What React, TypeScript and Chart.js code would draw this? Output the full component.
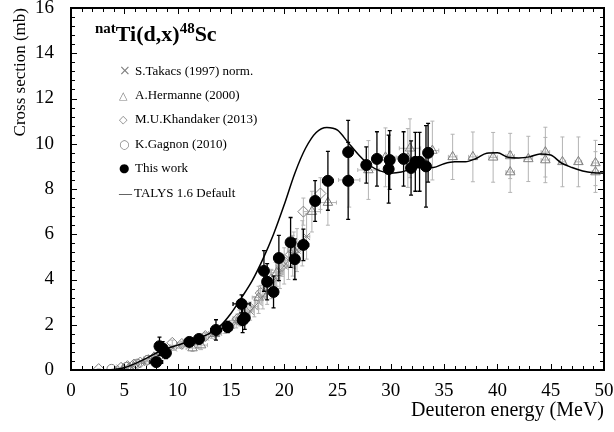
import { useEffect, useRef } from 'react';
import { Chart, registerables } from 'chart.js';

Chart.register(...registerables);

const SERIF = '"Liberation Serif", "Times New Roman", serif';
const GRAY = '#808080';
const BAR_GRAY = '#b4b4b4';

// S.Takacs (1997) norm.
const takacsE = [4.6, 5.1, 5.6, 6.1, 6.6, 7.1, 7.6, 8.1, 8.6, 9.1, 9.6, 10.2, 10.8, 11.4, 12.0, 12.6, 13.2, 13.8, 14.4, 15.0, 15.5, 16.0, 16.4, 16.8, 17.2, 17.6, 18.0, 18.4, 18.8, 19.2, 19.6, 20.0, 20.4, 20.8, 21.2, 21.7, 22.1];
const takacsCs = [0.08, 0.13, 0.19, 0.26, 0.34, 0.43, 0.53, 0.64, 0.76, 0.88, 0.98, 1.08, 1.17, 1.26, 1.36, 1.46, 1.57, 1.69, 1.82, 1.97, 2.1, 2.25, 2.4, 2.6, 2.8, 3.0, 3.25, 3.5, 3.8, 4.05, 4.35, 4.6, 4.85, 5.05, 5.3, 5.6, 5.9];
const takacsErr = [0.02, 0.03, 0.03, 0.04, 0.05, 0.06, 0.07, 0.08, 0.09, 0.1, 0.11, 0.12, 0.13, 0.14, 0.15, 0.16, 0.17, 0.18, 0.2, 0.22, 0.24, 0.3, 0.35, 0.4, 0.45, 0.5, 0.55, 0.6, 0.65, 0.7, 0.75, 0.8, 0.85, 0.9, 0.95, 1.0, 1.0];

// A.Hermanne (2000)
const hermanneE = [11.4, 12.2, 13.5, 15.8, 17.6, 19.3, 20.9, 22.6, 24.1, 26.1, 27.9, 29.5, 31.6, 31.8, 33.9, 35.8, 37.7, 39.6, 41.2, 41.2, 42.9, 44.5, 44.5, 46.1, 47.6, 49.2, 49.2];
const hermanneCs = [0.97, 1.1, 1.6, 2.3, 3.2, 4.3, 5.3, 7.0, 7.4, 8.4, 8.84, 9.4, 9.37, 9.8, 9.7, 9.42, 9.42, 9.4, 9.46, 8.75, 9.33, 9.63, 9.28, 9.2, 9.2, 9.15, 8.75];
const hermanneEErr = [0.6, 0.6, 0.6, 0.6, 0.6, 0.6, 0.6, 0.8, 0.8, 1.0, 1.0, 1.0, 1.0, 1.0, 0.6, 0.4, 0.4, 0.4, 0.4, 0.4, 0.4, 0.4, 0.4, 0.3, 0.3, 0.3, 0.3];
const hermanneErr = [0.15, 0.2, 0.25, 0.35, 0.5, 0.6, 0.8, 0.9, 1.0, 1.2, 1.3, 1.3, 1.3, 1.3, 1.3, 1.0, 1.1, 1.1, 1.0, 0.9, 1.0, 1.1, 1.0, 1.1, 1.1, 1.0, 0.9];

// M.U.Khandaker (2013)
const khandakerE = [2.6, 4.7, 5.3, 5.9, 6.5, 7.1, 7.8, 8.5, 9.5, 10.4, 12.6, 13.6, 14.6, 15.6, 16.6, 17.8, 18.8, 19.8, 20.6, 21.8, 23.4];
const khandakerCs = [0.04, 0.1, 0.17, 0.24, 0.33, 0.42, 0.56, 0.72, 1.2, 1.15, 1.5, 1.7, 1.95, 2.25, 2.7, 3.4, 4.0, 4.6, 5.1, 7.0, 7.8];
const khandakerErr = [0.01, 0.02, 0.02, 0.03, 0.04, 0.05, 0.06, 0.08, 0.12, 0.12, 0.15, 0.17, 0.2, 0.22, 0.27, 0.34, 0.4, 0.46, 0.5, 0.6, 0.7];

// K.Gagnon (2010)
const gagnonE = [3.8, 5.2, 6.2, 7.2];
const gagnonCs = [0.05, 0.14, 0.28, 0.45];

// This work
const workE = [8.0, 8.3, 8.6, 8.9, 11.1, 12.0, 13.6, 14.7, 16.0, 16.1, 16.3, 18.1, 18.4, 19.0, 19.5, 20.6, 21.0, 21.8, 22.9, 24.1, 26.0, 26.0, 27.7, 28.7, 29.8, 29.9, 31.2, 31.9, 32.3, 32.7, 33.3, 33.5];
const workCs = [0.35, 1.05, 0.95, 0.75, 1.24, 1.37, 1.77, 1.9, 2.92, 2.2, 2.3, 4.38, 3.9, 3.45, 4.95, 5.64, 4.9, 5.53, 7.47, 8.36, 9.63, 8.36, 9.06, 9.33, 8.88, 9.28, 9.33, 8.93, 9.2, 9.2, 9.0, 9.6];
const workEErr = [0.6, 0.3, 0.3, 0.3, 0.3, 0.3, 0.5, 0.3, 0.8, 0.4, 0.4, 0.3, 0.3, 0.3, 0.3, 0.4, 0.3, 0.5, 0.3, 0.5, 0.3, 0.3, 0.2, 0.2, 0.2, 0.2, 0.2, 0.2, 0.2, 0.2, 0.2, 0.2];
const workErr = [0.1, 0.4, 0.3, 0.25, 0.2, 0.2, 0.45, 0.25, 0.4, 0.55, 0.5, 0.9, 0.8, 0.7, 1.0, 1.1, 0.9, 0.7, 0.9, 1.3, 1.4, 1.7, 0.8, 1.2, 1.5, 1.3, 1.2, 1.2, 1.3, 1.3, 1.8, 1.3];

// TALYS 1.6 Default
const talysE = [3, 4, 5, 6, 7, 8, 9, 10, 11, 12, 13, 14, 15, 16, 17, 18, 19, 20, 21, 22, 23, 24, 25, 26, 27, 28, 29, 30, 31, 32, 33, 34, 35, 36, 37, 38, 39, 40, 41, 42, 43, 44, 45, 46, 47, 48, 49, 50];
const talysCs = [0, 0.02, 0.1, 0.28, 0.5, 0.75, 0.95, 1.1, 1.25, 1.42, 1.62, 1.95, 2.5, 3.2, 3.95, 4.9, 6.0, 7.3, 8.7, 9.8, 10.5, 10.72, 10.6, 10.05, 9.5, 9.05, 8.8, 8.7, 8.75, 8.9, 8.95, 8.95, 9.12, 9.2, 9.2, 9.35, 9.58, 9.6, 9.4, 9.37, 9.42, 9.55, 9.5, 9.15, 8.95, 8.8, 8.72, 8.7];

const xTicks = { min: 0, max: 50, step: 5, minor: 1 };
const yTicks = { min: 0, max: 16, step: 2, minor: 0.4 };

const legendItems = [
    { mark: '×', color: GRAY, size: 14, label: 'S.Takacs (1997) norm.' },
    { mark: '△', color: GRAY, size: 11, label: 'A.Hermanne (2000)' },
    { mark: '◇', color: GRAY, size: 11, label: 'M.U.Khandaker (2013)' },
    { mark: '○', color: GRAY, size: 12, label: 'K.Gagnon (2010)' },
    { mark: '●', color: '#000', size: 12, label: 'This work' },
    { mark: '—', color: '#000', size: 13, label: 'TALYS 1.6 Default' },
];

const pts = (xs: number[], ys: number[]) => xs.map((x, i) => ({ x, y: ys[i] }));

// error bars drawn just before each dataset's own markers
const errorBars = {
    id: 'errorBars',
    beforeDatasetDraw(chart: any, args: any) {
        const ds: any = chart.data.datasets[args.index];
        if (!ds.errY && !ds.errX) return;
        const { ctx, chartArea, scales: { x, y } } = chart;
        ctx.save();
        ctx.beginPath();
        ctx.rect(chartArea.left, chartArea.top, chartArea.right - chartArea.left, chartArea.bottom - chartArea.top);
        ctx.clip();
        ctx.strokeStyle = ds.errColor;
        ctx.lineWidth = ds.errWidth;
        ctx.beginPath();
        ds.data.forEach((p: any, i: number) => {
            const px = x.getPixelForValue(p.x);
            const py = y.getPixelForValue(p.y);
            const ey = Array.isArray(ds.errY) ? ds.errY[i] : ds.errY || 0;
            const ex = Array.isArray(ds.errX) ? ds.errX[i] : ds.errX || 0;
            if (ey) {
                const y1 = y.getPixelForValue(p.y + ey);
                const y2 = y.getPixelForValue(p.y - ey);
                ctx.moveTo(px, y1); ctx.lineTo(px, y2);
                ctx.moveTo(px - 2, y1); ctx.lineTo(px + 2, y1);
                ctx.moveTo(px - 2, y2); ctx.lineTo(px + 2, y2);
            }
            if (ex) {
                const x1 = x.getPixelForValue(p.x - ex);
                const x2 = x.getPixelForValue(p.x + ex);
                ctx.moveTo(x1, py); ctx.lineTo(x2, py);
                ctx.moveTo(x1, py - 2); ctx.lineTo(x1, py + 2);
                ctx.moveTo(x2, py - 2); ctx.lineTo(x2, py + 2);
            }
        });
        ctx.stroke();
        ctx.restore();
    },
};

// inward ticks on all four sides plus the heavy frame
const frameTicks = {
    id: 'frameTicks',
    afterDraw(chart: any) {
        const { ctx, chartArea: { left, right, top, bottom }, scales: { x, y } } = chart;
        ctx.save();
        ctx.strokeStyle = '#000';
        ctx.lineWidth = 1;
        ctx.beginPath();
        const nx = Math.round((xTicks.max - xTicks.min) / xTicks.minor);
        for (let i = 0; i <= nx; i++) {
            const v = xTicks.min + i * xTicks.minor;
            const px = Math.round(x.getPixelForValue(v)) + 0.5;
            const len = Math.abs(v / xTicks.step - Math.round(v / xTicks.step)) < 1e-6 ? 6 : 4;
            ctx.moveTo(px, bottom); ctx.lineTo(px, bottom - len);
            ctx.moveTo(px, top); ctx.lineTo(px, top + len);
        }
        const ny = Math.round((yTicks.max - yTicks.min) / yTicks.minor);
        for (let i = 0; i <= ny; i++) {
            const v = yTicks.min + i * yTicks.minor;
            const py = Math.round(y.getPixelForValue(v)) + 0.5;
            const len = Math.abs(v / yTicks.step - Math.round(v / yTicks.step)) < 1e-6 ? 6 : 4;
            ctx.moveTo(left, py); ctx.lineTo(left + len, py);
            ctx.moveTo(right, py); ctx.lineTo(right - len, py);
        }
        ctx.stroke();
        ctx.lineWidth = 2;
        ctx.strokeRect(left, top, right - left, bottom - top);
        ctx.restore();
    },
};

export default function App() {
    const chartRef = useRef<HTMLCanvasElement>(null);

    useEffect(() => {
        document.body.style.margin = '0';
        if (!chartRef.current) return;

        const chart = new Chart(chartRef.current, {
            type: 'scatter',
            data: {
                datasets: [
                    {
                        label: 'This work',
                        data: pts(workE, workCs),
                        pointStyle: 'circle',
                        pointRadius: 5.5,
                        backgroundColor: '#000',
                        borderColor: '#000',
                        borderWidth: 1,
                        order: 0,
                        errX: workEErr, errY: workErr, errColor: '#000', errWidth: 1.3,
                    } as any,
                    {
                        label: 'TALYS 1.6 Default',
                        data: pts(talysE, talysCs),
                        showLine: true,
                        pointRadius: 0,
                        borderColor: '#000',
                        borderWidth: 1.5,
                        cubicInterpolationMode: 'monotone',
                        order: 1,
                    },
                    {
                        label: 'K.Gagnon (2010)',
                        data: pts(gagnonE, gagnonCs),
                        pointStyle: 'circle',
                        pointRadius: 4.5,
                        backgroundColor: 'rgba(0,0,0,0)',
                        borderColor: GRAY,
                        borderWidth: 1,
                        order: 2,
                    },
                    {
                        label: 'M.U.Khandaker (2013)',
                        data: pts(khandakerE, khandakerCs),
                        pointStyle: 'rectRot',
                        pointRadius: 5.5,
                        backgroundColor: 'rgba(0,0,0,0)',
                        borderColor: GRAY,
                        borderWidth: 1,
                        order: 3,
                        errY: khandakerErr, errColor: BAR_GRAY, errWidth: 1,
                    } as any,
                    {
                        label: 'A.Hermanne (2000)',
                        data: pts(hermanneE, hermanneCs),
                        pointStyle: 'triangle',
                        pointRadius: 5.5,
                        backgroundColor: 'rgba(0,0,0,0)',
                        borderColor: GRAY,
                        borderWidth: 1,
                        order: 4,
                        errX: hermanneEErr, errY: hermanneErr, errColor: BAR_GRAY, errWidth: 1,
                    } as any,
                    {
                        label: 'S.Takacs (1997) norm.',
                        data: pts(takacsE, takacsCs),
                        pointStyle: 'crossRot',
                        pointRadius: 5,
                        borderColor: GRAY,
                        borderWidth: 1,
                        order: 5,
                        errX: 0.3, errY: takacsErr, errColor: BAR_GRAY, errWidth: 1,
                    } as any,
                ],
            },
            options: {
                responsive: true,
                maintainAspectRatio: false,
                animation: false,
                layout: { padding: { top: 8, right: 10, left: 0, bottom: 0 } },
                plugins: { legend: { display: false }, tooltip: { enabled: false } },
                scales: {
                    x: {
                        type: 'linear',
                        min: xTicks.min,
                        max: xTicks.max,
                        grid: { display: false, drawTicks: false },
                        border: { display: false },
                        ticks: { stepSize: xTicks.step, color: '#000', padding: 10, font: { family: SERIF, size: 19 } },
                        title: {
                            display: true,
                            text: 'Deuteron energy (MeV)',
                            align: 'end',
                            color: '#000',
                            font: { family: SERIF, size: 20 },
                            padding: { top: 0, bottom: 9 },
                        },
                        afterFit: (s: any) => { s.height = 62; s.paddingLeft = 0; s.paddingRight = 0; },
                    },
                    y: {
                        type: 'linear',
                        min: yTicks.min,
                        max: yTicks.max,
                        grid: { display: false, drawTicks: false },
                        border: { display: false },
                        ticks: { stepSize: yTicks.step, color: '#000', padding: 17, font: { family: SERIF, size: 19 } },
                        title: {
                            display: true,
                            text: 'Cross section (mb)',
                            align: 'end',
                            color: '#000',
                            font: { family: SERIF, size: 17 },
                            padding: { top: 10, bottom: 0 },
                        },
                        afterFit: (s: any) => { s.width = 71; s.paddingTop = 0; s.paddingBottom = 0; },
                    },
                },
            },
            plugins: [errorBars, frameTicks],
        });

        return () => { chart.destroy(); };
    }, []);

    return (
        <div style={{ position: 'relative', width: 614, height: 432, background: '#fff' }}>
            <div style={{ position: 'absolute', inset: 0 }}>
                <canvas ref={chartRef}></canvas>
            </div>
            <div style={{ position: 'absolute', left: 95, top: 20, fontFamily: SERIF, fontWeight: 'bold', fontSize: 22, lineHeight: '28px', whiteSpace: 'nowrap' }}>
                <span style={{ fontSize: 15, position: 'relative', top: -8 }}>nat</span>Ti(d,x)<span style={{ fontSize: 15, position: 'relative', top: -8 }}>48</span>Sc
            </div>
            {legendItems.map((item, i) => (
                <div
                    key={item.label}
                    style={{ position: 'absolute', left: 119, top: 61 + i * 24.6, height: 18, lineHeight: '18px', fontFamily: SERIF, fontSize: 13, whiteSpace: 'nowrap' }}
                >
                    <span style={{ display: 'inline-block', width: i === 5 ? 15 : 16, color: item.color, fontSize: item.size, fontFamily: i === 5 ? SERIF : '"DejaVu Sans", sans-serif' }}>{item.mark}</span>
                    {item.label}
                </div>
            ))}
        </div>
    );
}
